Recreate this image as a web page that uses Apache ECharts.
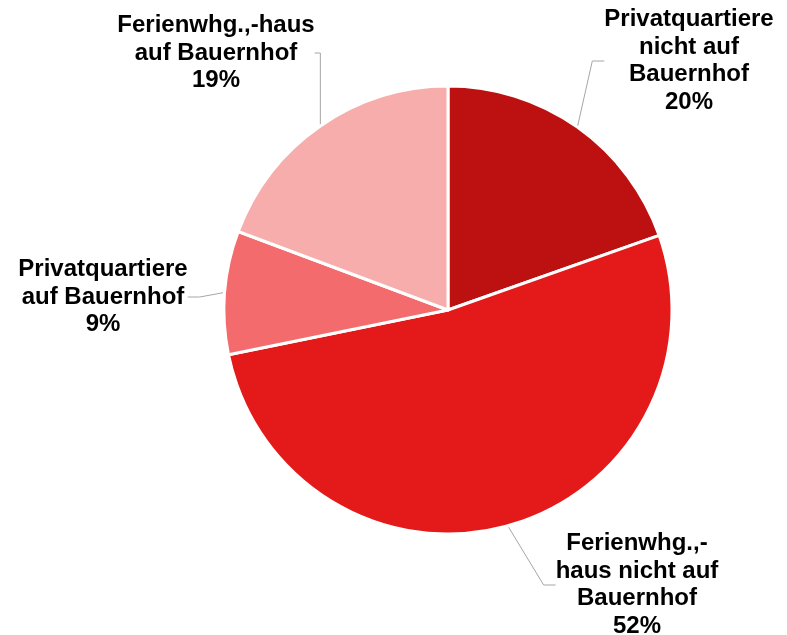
<!DOCTYPE html>
<html>
<head>
<meta charset="utf-8">
<script src="https://cdn.jsdelivr.net/npm/echarts@6/dist/echarts.min.js"></script>
<style>
  html, body { margin: 0; padding: 0; background: #fff; }
  #chart { width: 787px; height: 635px; }
</style>
</head>
<body>
<div id="chart"></div>
<script>
const categories = [
  'Privatquartiere\nnicht auf\nBauernhof',
  'Ferienwhg.,-\nhaus nicht auf\nBauernhof',
  'Privatquartiere\nauf Bauernhof',
  'Ferienwhg.,-haus\nauf Bauernhof'
]
const shares = [19.6, 52.2, 8.9, 19.3]
const colors = ['#BD1111', '#E41919', '#F36B6C', '#F7ADAC']
// where each label block sits (centre of the text)
const labelPos = [[689, 61], [637, 585], [103, 297], [216, 53]]

const chart = echarts.init(document.getElementById('chart'))
chart.setOption({
  animation: false,
  series: [{
    type: 'pie',
    center: [448, 310],
    radius: [0, 224],
    startAngle: 90,
    clockwise: true,
    percentPrecision: 0,
    data: categories.map((name, i) => ({ name, value: shares[i], itemStyle: { color: colors[i] } })),
    itemStyle: { borderColor: '#fff', borderWidth: 3 },
    label: {
      show: true,
      position: 'outside',
      formatter: '{b}\n{d}%',
      fontFamily: 'Liberation Sans, Arial, sans-serif',
      fontWeight: 'bold',
      fontSize: 24,
      lineHeight: 27.5,
      color: '#000',
      align: 'center'
    },
    labelLine: {
      show: true,
      length: 20,
      length2: 12,
      lineStyle: { color: '#A6A6A6', width: 1 }
    },
    labelLayout: (p) => ({
      x: labelPos[p.dataIndex][0],
      y: labelPos[p.dataIndex][1],
      align: 'center',
      verticalAlign: 'middle'
    }),
    emphasis: { disabled: true }
  }]
})
</script>
</body>
</html>
